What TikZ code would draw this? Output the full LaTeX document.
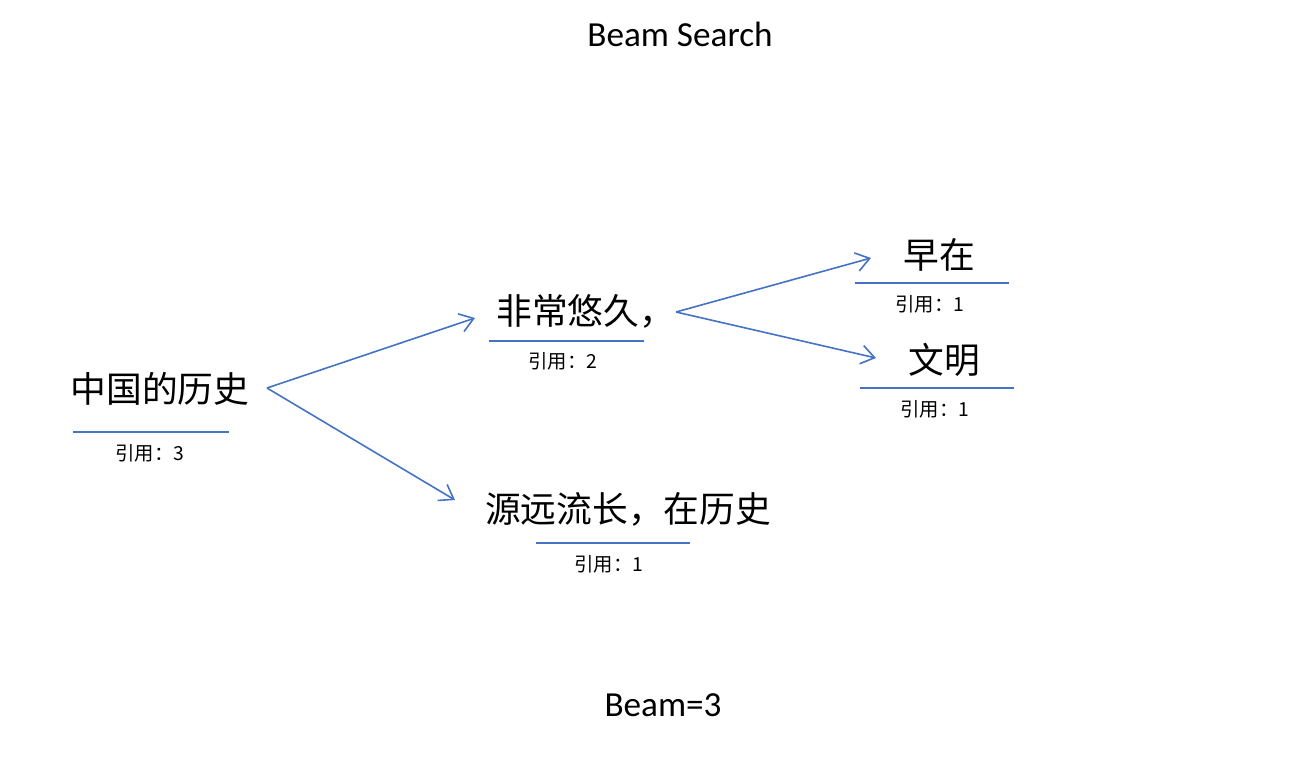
\documentclass[tikz,border=0pt]{standalone}
\usepackage{fontspec}
\setmainfont{Carlito}
\newfontfamily\cjk{Noto Sans CJK SC}
\usetikzlibrary{arrows.meta}
\definecolor{lineblue}{HTML}{4472C4}
\tikzset{
  big/.style={inner sep=0pt, font=\cjk\fontsize{26.8}{30}\selectfont},
  lat/.style={inner sep=0pt, font=\fontsize{26.4}{30}\selectfont},
  cite/.style={inner sep=0pt, font=\cjk\fontsize{14.5}{16}\selectfont},
  uline/.style={draw=lineblue, line width=1.5pt},
  arr/.style={draw=lineblue, line width=1.2pt, -{Straight Barb[length=10pt,width=14pt,line width=1.2pt]}}
}
\begin{document}
\begin{tikzpicture}[x=0.75pt,y=-0.75pt]
\useasboundingbox (0,0) rectangle (1298,775);
% texts
\node[lat] (title) at (680,34) {Beam Search};
\node[lat] (beam) at (663,705) {Beam=3};
\node[big] (a) at (160,389) {中国的历史};
\node[cite] (ac) at (150,453) {引用：3};
\node[big, anchor=west] (b) at (496,311) {非常悠久，};
\node[cite] (bc) at (563,361) {引用：2};
\node[big] (c) at (628,509) {源远流长，在历史};
\node[cite] (cc) at (609,564) {引用：1};
\node[big] (d) at (939,255) {早在};
\node[cite] (dc) at (930,304) {引用：1};
\node[big] (e) at (944,360) {文明};
\node[cite] (ec) at (935,409) {引用：1};
% underlines
\coordinate (au1) at (73,432);  \coordinate (au2) at (229,432);
\coordinate (bu1) at (489,341); \coordinate (bu2) at (644,341);
\coordinate (cu1) at (536,543); \coordinate (cu2) at (690,543);
\coordinate (du1) at (855,283); \coordinate (du2) at (1009,283);
\coordinate (eu1) at (860,388); \coordinate (eu2) at (1014,388);
\foreach \u in {a,b,c,d,e} \draw[uline] (\u u1) -- (\u u2);
% connectors
\coordinate (aout) at (267,388);
\coordinate (bin) at (475,318);
\coordinate (cin) at (455,500);
\coordinate (bout) at (676,312);
\coordinate (din) at (871,258);
\coordinate (ein) at (876,358);
\draw[arr] (aout) -- (bin);
\draw[arr] (aout) -- (cin);
\draw[arr] (bout) -- (din);
\draw[arr] (bout) -- (ein);
\end{tikzpicture}
\end{document}
